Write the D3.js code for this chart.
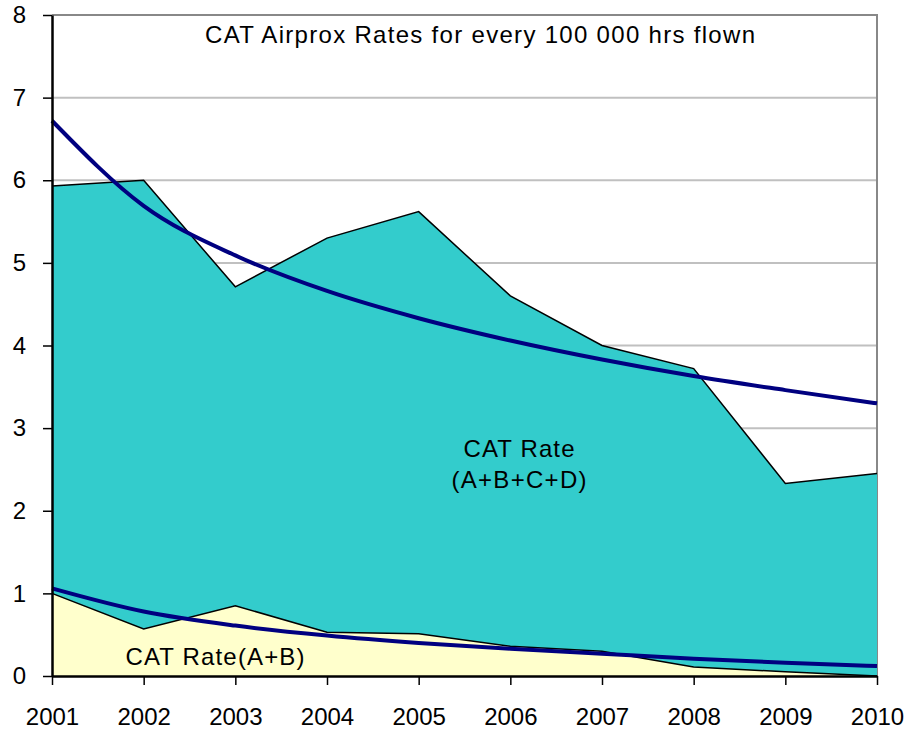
<!DOCTYPE html>
<html>
<head>
  <meta charset="utf-8">
  <title>CAT Airprox Rates</title>
  <script src="https://d3js.org/d3.v7.min.js"></script>
  <style>
    body { margin: 0; background: #fff; }
    text { font-family: "Liberation Sans", Arial, sans-serif; fill: #000; }
  </style>
</head>
<body>
  <script>
    const years = [2001, 2002, 2003, 2004, 2005, 2006, 2007, 2008, 2009, 2010];
    const rateAll = [5.93, 6.0, 4.71, 5.3, 5.62, 4.6, 4.0, 3.72, 2.33, 2.45];
    const rateAB = [1.0, 0.57, 0.85, 0.53, 0.51, 0.36, 0.30, 0.11, 0.05, 0.0];
    const trendAll = [6.72, 5.69, 5.09, 4.66, 4.33, 4.06, 3.83, 3.63, 3.46, 3.30];
    const trendAB = [1.06, 0.78, 0.61, 0.49, 0.40, 0.33, 0.27, 0.21, 0.16, 0.12];
    const yTicks = [0, 1, 2, 3, 4, 5, 6, 7, 8];

    const width = 905, height = 731;
    const mLeft = 52, mRight = 877, mTop = 15, mBottom = 676;

    const svg = d3.select("body").append("svg").attr("width", width).attr("height", height);

    const x = d3.scaleLinear().domain([2001, 2010]).range([mLeft, mRight]);
    const y = d3.scaleLinear().domain([0, 8]).range([mBottom, mTop]);

    // gridlines
    svg.append("g").selectAll("line")
      .data(yTicks.filter(d => d > 0))
      .enter().append("line")
      .attr("x1", mLeft).attr("x2", mRight)
      .attr("y1", d => y(d)).attr("y2", d => y(d))
      .attr("stroke", "#c0c0c0").attr("stroke-width", 2);

    // plot border (top/right)
    svg.append("path")
      .attr("d", `M${mLeft},${mTop}H${mRight}V${mBottom}`)
      .attr("fill", "none").attr("stroke", "#888").attr("stroke-width", 2);

    const areaAll = d3.area().x((d, i) => x(years[i])).y0(y(0)).y1(d => y(d));
    const lineAll = d3.line().x((d, i) => x(years[i])).y(d => y(d));

    svg.append("path").datum(rateAll)
      .attr("d", areaAll).attr("fill", "#33cccc");
    svg.append("path").datum(rateAll)
      .attr("d", lineAll).attr("fill", "none").attr("stroke", "#000").attr("stroke-width", 1.5);

    svg.append("path").datum(rateAB)
      .attr("d", areaAll).attr("fill", "#ffffcc");
    svg.append("path").datum(rateAB)
      .attr("d", lineAll).attr("fill", "none").attr("stroke", "#000").attr("stroke-width", 1.5);

    // trend lines
    const trendLine = d3.line().x((d, i) => x(years[i])).y(d => y(d)).curve(d3.curveMonotoneX);
    [trendAll, trendAB].forEach(t => {
      svg.append("path").datum(t)
        .attr("d", trendLine).attr("fill", "none")
        .attr("stroke", "#000080").attr("stroke-width", 4);
    });

    // axes
    const axisY = d3.axisLeft(y).tickValues(yTicks).tickSize(9).tickPadding(17).tickSizeOuter(0);
    const gY = svg.append("g").attr("transform", `translate(${mLeft},0)`).call(axisY);
    const axisX = d3.axisBottom(x).tickValues(years).tickFormat(d3.format("d")).tickSize(9).tickPadding(23).tickSizeOuter(0);
    const gX = svg.append("g").attr("transform", `translate(0,${mBottom})`).call(axisX);
    [gX, gY].forEach(g => {
      g.select(".domain").attr("stroke", "#000").attr("stroke-width", 2.5);
      g.selectAll(".tick line").attr("stroke", "#000").attr("stroke-width", 1.5);
      g.selectAll(".tick text").style("font-size", "24px").attr("fill", "#000");
    });

    // labels
    function label(tx, ty, str, len) {
      svg.append("text").attr("x", tx).attr("y", ty).attr("text-anchor", "middle")
        .style("font-size", "24px")
        .attr("textLength", len).attr("lengthAdjust", "spacing")
        .text(str);
    }
    label(480, 43, "CAT Airprox Rates for every 100 000 hrs flown", 550);
    label(519, 457, "CAT Rate", 111);
    label(519, 488, "(A+B+C+D)", 135);
    label(215, 665, "CAT Rate(A+B)", 179);
  </script>
</body>
</html>
